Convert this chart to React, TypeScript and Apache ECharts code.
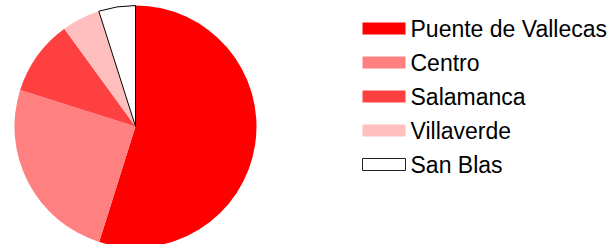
import React, { useEffect, useRef } from "react";
import * as echarts from "echarts";

const categories = ["Puente de Vallecas", "Centro", "Salamanca", "Villaverde", "San Blas"];
const values = [54.8, 25.0, 10.1, 5.1, 4.9];
const colors = ["#FF0000", "#FF8080", "#FF4040", "#FFBFBF", "#FFFFFF"];

export default function App() {
  const ref = useRef<HTMLDivElement>(null);
  useEffect(() => {
    if (!ref.current) return;
    const chart = echarts.init(ref.current, undefined, { renderer: "svg" });
    const data = categories.map((name, i) => ({
      name,
      value: values[i],
      itemStyle:
        name === "San Blas"
          ? { color: colors[i], borderColor: "#000000", borderWidth: 1 }
          : { color: colors[i], borderWidth: 0 },
    }));
    chart.setOption({
      animation: false,
      backgroundColor: "#FFFFFF",
      legend: {
        orient: "vertical",
        left: 357,
        top: 12,
        itemWidth: 43,
        itemHeight: 12,
        itemGap: 11,
        icon: "rect",
        selectedMode: false,
        textStyle: {
          fontFamily: "Liberation Sans, Arial, sans-serif",
          fontSize: 23,
          lineHeight: 23,
          color: "#000000",
        },
        data: categories.map((name) =>
          name === "San Blas"
            ? { name, itemStyle: { borderWidth: 1, borderColor: "#222222" } }
            : { name }
        ),
      },
      series: [
        {
          type: "pie",
          center: [135.5, 126.5],
          radius: [0, 121],
          startAngle: 90,
          clockwise: true,
          label: { show: false },
          labelLine: { show: false },
          emphasis: { disabled: true },
          silent: true,
          data,
        },
      ],
    });
    return () => chart.dispose();
  }, []);
  return (
    <div
      ref={ref}
      style={{ position: "fixed", left: 0, top: 0, width: 611, height: 244 }}
    />
  );
}
